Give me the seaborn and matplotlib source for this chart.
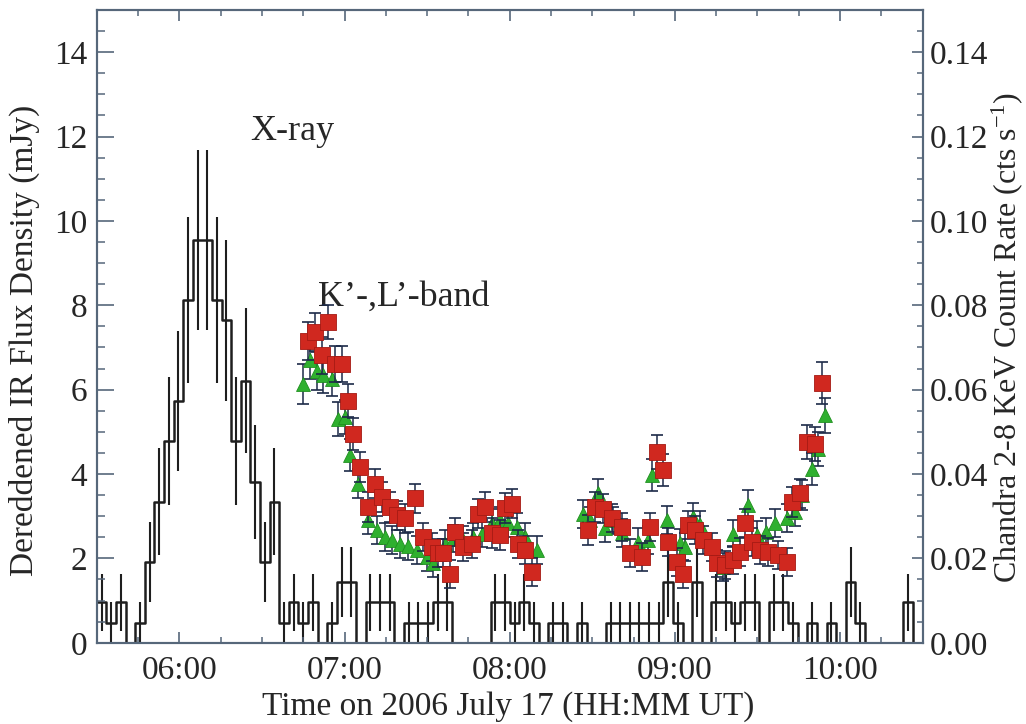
import numpy as np
import pandas as pd
import matplotlib
matplotlib.use("Agg")
import matplotlib.pyplot as plt
from matplotlib.ticker import MultipleLocator, FuncFormatter
import seaborn as sns

# ---------------- data ----------------
# Chandra 2-8 keV: counts per bin, bins start at 05:30 UT
XRAY_START_H = 5.5
XRAY_BIN_S = 209.3
xray_counts = [2, 1, 2, 0, 1, 4, 7, 10, 12, 17,
               20, 20, 17, 16, 10, 13, 8, 4, 7, 1,
               2, 1, 2, 0, 1, 3, 3, 0, 2, 2,
               2, 0, 1, 1, 1, 2, 2, 0, 0, 0,
               0, 2, 2, 1, 2, 1, 0, 1, 1, 0,
               1, 0, 0, 1, 1, 1, 1, 1, 1, 3,
               1, 0, 3, 0, 2, 2, 1, 2, 2, 0,
               2, 2, 1, 0, 1, 0, 1, 0, 3, 1,
               0, 0, 0, 0, 2, 0]

# K'-band (red squares), time in decimal hours UT, flux in mJy
k_time = [6.781, 6.821, 6.862, 6.902, 6.943, 6.983, 7.023, 7.053, 7.094, 7.144,
          7.185, 7.225, 7.275, 7.316, 7.366, 7.427, 7.477, 7.528, 7.568, 7.598,
          7.639, 7.669, 7.719, 7.770, 7.810, 7.850, 7.891, 7.941, 7.972, 8.012,
          8.052, 8.093, 8.133,
          8.476, 8.516, 8.567, 8.617, 8.678, 8.728, 8.799, 8.849, 8.890, 8.930,
          8.960, 9.011, 9.051, 9.081, 9.122, 9.172, 9.223, 9.253, 9.303, 9.354,
          9.394, 9.424, 9.465, 9.515, 9.565, 9.626, 9.677, 9.707, 9.757, 9.798,
          9.848, 9.889]
k_flux = [7.16, 7.36, 6.81, 7.60, 6.61, 6.61, 5.74, 4.94, 4.17, 3.22,
          3.77, 3.46, 3.22, 3.02, 2.95, 3.42, 2.51, 2.27, 2.12, 2.12,
          1.64, 2.63, 2.27, 2.35, 3.06, 3.22, 2.60, 2.55, 3.20, 3.30,
          2.35, 2.20, 1.68,
          2.67, 3.22, 3.18, 2.95, 2.75, 2.12, 2.04, 2.75, 4.52, 4.09,
          2.39, 1.92, 1.64, 2.79, 2.67, 2.43, 2.27, 1.88, 1.84, 1.96,
          2.16, 2.83, 2.39, 2.20, 2.16, 2.08, 1.92, 3.34, 3.54, 4.76,
          4.72, 6.16]
k_err = [0.45, 0.45, 0.45, 0.40, 0.42, 0.42, 0.40, 0.38, 0.36, 0.35,
         0.35, 0.35, 0.35, 0.35, 0.35, 0.35, 0.33, 0.33, 0.33, 0.33,
         0.33, 0.33, 0.33, 0.33, 0.35, 0.35, 0.35, 0.35, 0.35, 0.35,
         0.33, 0.33, 0.33,
         0.35, 0.35, 0.35, 0.33, 0.33, 0.33, 0.33, 0.33, 0.40, 0.38,
         0.33, 0.33, 0.33, 0.33, 0.33, 0.33, 0.33, 0.33, 0.33, 0.33,
         0.33, 0.33, 0.33, 0.33, 0.33, 0.33, 0.33, 0.35, 0.35, 0.40,
         0.40, 0.50]

# L'-band (green triangles)
l_time = [6.751, 6.791, 6.832, 6.872, 6.923, 6.963, 7.003, 7.033, 7.084, 7.144,
          7.195, 7.245, 7.286, 7.336, 7.386, 7.437, 7.498, 7.538, 7.608, 7.659,
          7.719, 7.780, 7.831, 7.891, 7.941, 7.992, 8.042, 8.093, 8.163,
          8.446, 8.486, 8.536, 8.577, 8.627, 8.678, 8.778, 8.839, 8.860, 8.950,
          9.031, 9.061, 9.111, 9.152, 9.293, 9.354, 9.444, 9.497, 9.552, 9.606,
          9.677, 9.727, 9.768, 9.828, 9.866, 9.909]
l_flux = [6.14, 6.70, 6.45, 6.34, 6.26, 5.30, 5.35, 4.45, 3.77, 2.90,
          2.67, 2.51, 2.43, 2.35, 2.30, 2.20, 2.04, 1.88, 2.35, 2.47,
          2.43, 2.51, 2.59, 2.83, 2.90, 2.83, 2.75, 2.50, 2.20,
          3.06, 2.90, 3.54, 2.71, 2.90, 2.60, 2.39, 2.43, 3.97, 2.92,
          2.36, 2.27, 2.98, 2.80, 1.80, 2.59, 3.26, 2.55, 2.62, 2.83,
          2.95, 3.10, 3.50, 4.13, 4.60, 5.39]
l_err = [0.47, 0.45, 0.45, 0.42, 0.42, 0.40, 0.40, 0.38, 0.35, 0.33,
         0.33, 0.33, 0.33, 0.33, 0.33, 0.33, 0.33, 0.33, 0.33, 0.33,
         0.33, 0.33, 0.33, 0.33, 0.33, 0.33, 0.33, 0.33, 0.33,
         0.33, 0.33, 0.35, 0.33, 0.33, 0.33, 0.33, 0.33, 0.38, 0.33,
         0.33, 0.33, 0.33, 0.33, 0.33, 0.33, 0.35, 0.33, 0.33, 0.33,
         0.33, 0.33, 0.35, 0.38, 0.40, 0.42]

x_label = "Time on 2006 July 17 (HH:MM UT)"
y_label = "Dereddened IR Flux Density (mJy)"
y2_label = "Chandra 2-8 KeV Count Rate (cts s$^{-1}$)"

# ---------------- style ----------------
sns.set_theme(style="ticks")
plt.rcParams["font.family"] = ["Liberation Serif", "DejaVu Serif"]
plt.rcParams["mathtext.fontset"] = "custom"
plt.rcParams["mathtext.rm"] = "Liberation Serif"
plt.rcParams["mathtext.it"] = "Liberation Serif:italic"

FS = 24
SPINE = "#56677a"
HIST = "#1e1e1e"
ECOL = "#1c2a48"

fig = plt.figure(figsize=(10.26, 7.24), dpi=100)
ax = fig.add_axes([0.0943, 0.1122, 0.805, 0.874])
ax2 = ax.twinx()

# ---------------- X-ray histogram ----------------
counts = np.array(xray_counts, dtype=float)
edges = XRAY_START_H + np.arange(len(counts) + 1) * XRAY_BIN_S / 3600.0
centers = 0.5 * (edges[:-1] + edges[1:])
rate = counts / XRAY_BIN_S
steps = pd.DataFrame({"t": edges, "rate": np.append(rate, rate[-1])})
sns.lineplot(data=steps, x="t", y="rate", drawstyle="steps-post",
             color=HIST, linewidth=1.8, ax=ax2, estimator=None, sort=False)
xray = pd.DataFrame({"t": centers, "rate": rate,
                     "err": np.sqrt(counts) / XRAY_BIN_S, "n": counts})
nz = xray[xray["n"] > 0]
ax2.errorbar(nz["t"], nz["rate"], yerr=nz["err"], fmt="none",
             ecolor=HIST, elinewidth=1.5, capsize=0)

# ---------------- IR points ----------------
ax.errorbar(l_time, l_flux, yerr=l_err, fmt="none", ecolor=ECOL,
            elinewidth=1.1, capsize=4.5, capthick=1.2, zorder=2)
sns.scatterplot(x=l_time, y=l_flux, marker="^", s=100, color="#2fb02f",
                edgecolor="#1f8f1f", linewidth=0.6, ax=ax, zorder=3)
ax.errorbar(k_time, k_flux, yerr=k_err, fmt="none", ecolor=ECOL,
            elinewidth=1.1, capsize=4.5, capthick=1.2, zorder=4)
sns.scatterplot(x=k_time, y=k_flux, marker="s", s=125, color="#d0281f",
                edgecolor="#a51a14", linewidth=0.6, ax=ax, zorder=5)

ax.set_zorder(ax2.get_zorder() + 1)
ax.patch.set_visible(False)

# ---------------- axes ----------------
ax.set_xlim(5.5, 10.5)
ax.set_ylim(0, 15)
ax2.set_ylim(0, 0.15)

ax.xaxis.set_major_locator(MultipleLocator(1))
ax.xaxis.set_minor_locator(MultipleLocator(0.25))
ax.xaxis.set_major_formatter(FuncFormatter(
    lambda v, p: f"{int(v):02d}:{int(round((v % 1) * 60)):02d}"))
ax.yaxis.set_major_locator(MultipleLocator(2))
ax.yaxis.set_minor_locator(MultipleLocator(0.5))
ax2.yaxis.set_major_locator(MultipleLocator(0.02))
ax2.yaxis.set_minor_locator(MultipleLocator(0.005))
ax2.yaxis.set_major_formatter(FuncFormatter(lambda v, p: f"{v:.2f}"))

ax.tick_params(axis="y", which="major", direction="in", length=12, width=1.2,
               color=SPINE, labelsize=FS, pad=7, right=False)
ax.tick_params(axis="y", which="minor", direction="in", length=6, width=1.1,
               color=SPINE, right=False)
ax.tick_params(axis="x", which="major", direction="in", length=8, width=1.2,
               color=SPINE, labelsize=FS, pad=9, top=True)
ax.tick_params(axis="x", which="minor", direction="in", length=4, width=1.1,
               color=SPINE, top=True)
ax2.tick_params(axis="y", which="major", direction="in", length=8, width=1.2,
                color=SPINE, labelsize=FS, pad=5)
ax2.tick_params(axis="y", which="minor", direction="in", length=4, width=1.1,
                color=SPINE)

for a in (ax, ax2):
    for s in a.spines.values():
        s.set_visible(True)
        s.set_color(SPINE)
        s.set_linewidth(1.5)

ax.set_xlabel(x_label, fontsize=FS)
ax.set_ylabel(y_label, fontsize=FS)
ax2.set_ylabel(y2_label, fontsize=23)
ax.xaxis.set_label_coords(0.4985, -0.101)
ax.xaxis.label.set_va("center")
ax.yaxis.set_label_coords(-0.088, 0.478)
ax.yaxis.label.set_va("center")
ax2.yaxis.set_label_coords(1.1025, 0.482)
ax2.yaxis.label.set_va("center")

ax.text(6.682, 12.13, "X-ray", ha="center", va="center", fontsize=26)
ax.text(6.84, 8.18, "K\u2019-,L\u2019-band", ha="left", va="center", fontsize=26)

fig.savefig("out.png", dpi=100)
